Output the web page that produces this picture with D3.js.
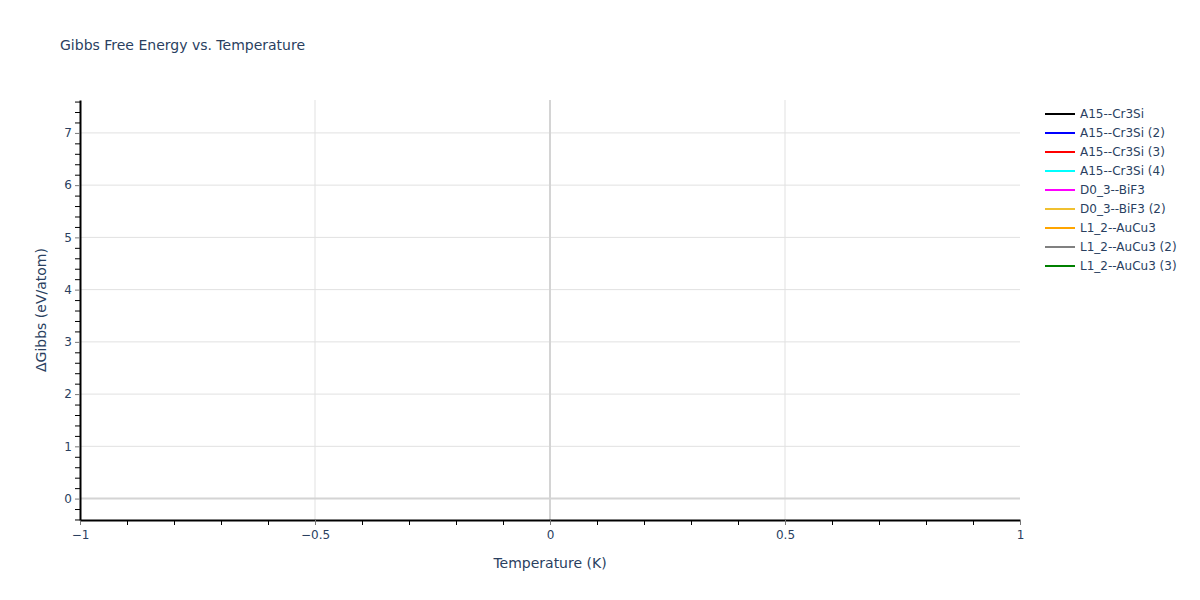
<!DOCTYPE html>
<html>
<head>
<meta charset="utf-8">
<script src="https://cdn.jsdelivr.net/npm/d3@7"></script>
<style>
  body { margin: 0; background: #fff; }
  text { font-family: "DejaVu Sans", Verdana, sans-serif; fill: #2a3f5f; }
</style>
</head>
<body>
<div id="chart"></div>
<script>
// series names and colours as shown in the legend
var seriesNames = ["A15--Cr3Si", "A15--Cr3Si (2)", "A15--Cr3Si (3)", "A15--Cr3Si (4)",
                   "D0_3--BiF3", "D0_3--BiF3 (2)", "L1_2--AuCu3", "L1_2--AuCu3 (2)", "L1_2--AuCu3 (3)"];
var seriesColors = ["black", "blue", "red", "cyan", "magenta", "#f0c030", "orange", "gray", "green"];
// every series only holds the single point at T = 0, dG = 0
var temperature = [0];
var gibbs = [0];

var xTicks = [-1, -0.5, 0, 0.5, 1];
var yTicks = [0, 1, 2, 3, 4, 5, 6, 7];

var width = 1200, height = 600;
var mLeft = 80, mRight = 1020, mTop = 100, mBottom = 520;

var svg = d3.select("#chart").append("svg")
    .attr("width", width)
    .attr("height", height);

var xScale = d3.scaleLinear().domain([-1, 1]).range([mLeft, mRight]);
var yScale = d3.scaleLinear().domain([-0.41, 7.63]).range([mBottom, mTop]);

// grid
svg.append("g").selectAll("line")
  .data(xTicks.filter(function(d) { return d != -1 && d != 1 && d != 0; }))
  .enter().append("line")
  .attr("x1", function(d) { return xScale(d); })
  .attr("x2", function(d) { return xScale(d); })
  .attr("y1", mTop).attr("y2", mBottom)
  .style("stroke", "#e1e1e1").style("stroke-width", 1);

svg.append("g").selectAll("line")
  .data(yTicks.filter(function(d) { return d != 0; }))
  .enter().append("line")
  .attr("x1", mLeft).attr("x2", mRight)
  .attr("y1", function(d) { return yScale(d); })
  .attr("y2", function(d) { return yScale(d); })
  .style("stroke", "#e1e1e1").style("stroke-width", 1);

// zero lines
svg.append("line")
  .attr("x1", xScale(0)).attr("x2", xScale(0))
  .attr("y1", mTop).attr("y2", mBottom)
  .style("stroke", "#d4d4d4").style("stroke-width", 2);
svg.append("line")
  .attr("x1", mLeft).attr("x2", mRight)
  .attr("y1", yScale(0)).attr("y2", yScale(0))
  .style("stroke", "#d4d4d4").style("stroke-width", 2);

// series lines
var line = d3.line()
  .x(function(d, i) { return xScale(temperature[i]); })
  .y(function(d, i) { return yScale(gibbs[i]); });
seriesNames.forEach(function(name, i) {
  svg.append("path")
    .attr("d", line(gibbs))
    .attr("fill", "none")
    .attr("stroke", seriesColors[i])
    .attr("stroke-width", 2);
});

// axes with minor ticks
var xMinor = d3.range(-10, 11).map(function(d) { return d / 10; })
  .filter(function(d) { return xTicks.indexOf(d) < 0; });
svg.append("g")
  .attr("transform", "translate(0," + mBottom + ")")
  .call(d3.axisBottom(xScale).tickValues(xMinor).tickSize(5).tickFormat(""))
  .call(function(g) { g.select(".domain").remove(); g.selectAll("line").style("stroke", "#000"); });

var xAxis = svg.append("g").attr("id", "xAxisG")
  .attr("transform", "translate(0," + mBottom + ")")
  .call(d3.axisBottom(xScale).tickValues(xTicks).tickSize(5).tickSizeOuter(0)
        .tickFormat(function(d) { return d == 0 ? "0" : (d < 0 ? "\u2212" + Math.abs(d) : d); }));
xAxis.select(".domain").style("stroke", "#000").style("stroke-width", 2);
xAxis.selectAll("line").style("stroke", "#777");
xAxis.selectAll("text").style("font-size", "12px").style("fill", "#2a3f5f").attr("y", 9).attr("dy", "0.85em");

var yMinor = d3.range(-2, 39).map(function(d) { return d / 5; })
  .filter(function(d) { return yTicks.indexOf(d) < 0; });
svg.append("g")
  .attr("transform", "translate(" + mLeft + ",0)")
  .call(d3.axisLeft(yScale).tickValues(yMinor).tickSize(5).tickFormat(""))
  .call(function(g) { g.select(".domain").remove(); g.selectAll("line").style("stroke", "#000"); });

var yAxis = svg.append("g").attr("id", "yAxisG")
  .attr("transform", "translate(" + mLeft + ",0)")
  .call(d3.axisLeft(yScale).tickValues(yTicks).tickSize(5).tickSizeOuter(0));
yAxis.select(".domain").style("stroke", "#000").style("stroke-width", 2);
yAxis.selectAll("line").style("stroke", "#777");
yAxis.selectAll("text").style("font-size", "12px").style("fill", "#2a3f5f").attr("x", -8);

// titles
svg.append("text")
  .attr("x", 60).attr("y", 50)
  .style("font-size", "14px")
  .text("Gibbs Free Energy vs. Temperature");

svg.append("text")
  .attr("x", (mLeft + mRight) / 2).attr("y", 568)
  .attr("text-anchor", "middle")
  .style("font-size", "14px")
  .text("Temperature (K)");

svg.append("text")
  .attr("transform", "translate(46," + (mTop + mBottom) / 2 + ") rotate(-90)")
  .attr("text-anchor", "middle")
  .style("font-size", "14px")
  .text("\u0394Gibbs (eV/atom)");

// legend
var legend = svg.append("g").selectAll("g")
  .data(seriesNames)
  .enter().append("g")
  .attr("transform", function(d, i) { return "translate(1045," + (114 + i * 19) + ")"; });
legend.append("line")
  .attr("x1", 0).attr("x2", 30)
  .attr("stroke", function(d, i) { return seriesColors[i]; })
  .attr("stroke-width", 2);
legend.append("text")
  .attr("x", 35).attr("dy", "0.35em")
  .style("font-size", "12px")
  .text(function(d) { return d; });
</script>
</body>
</html>
